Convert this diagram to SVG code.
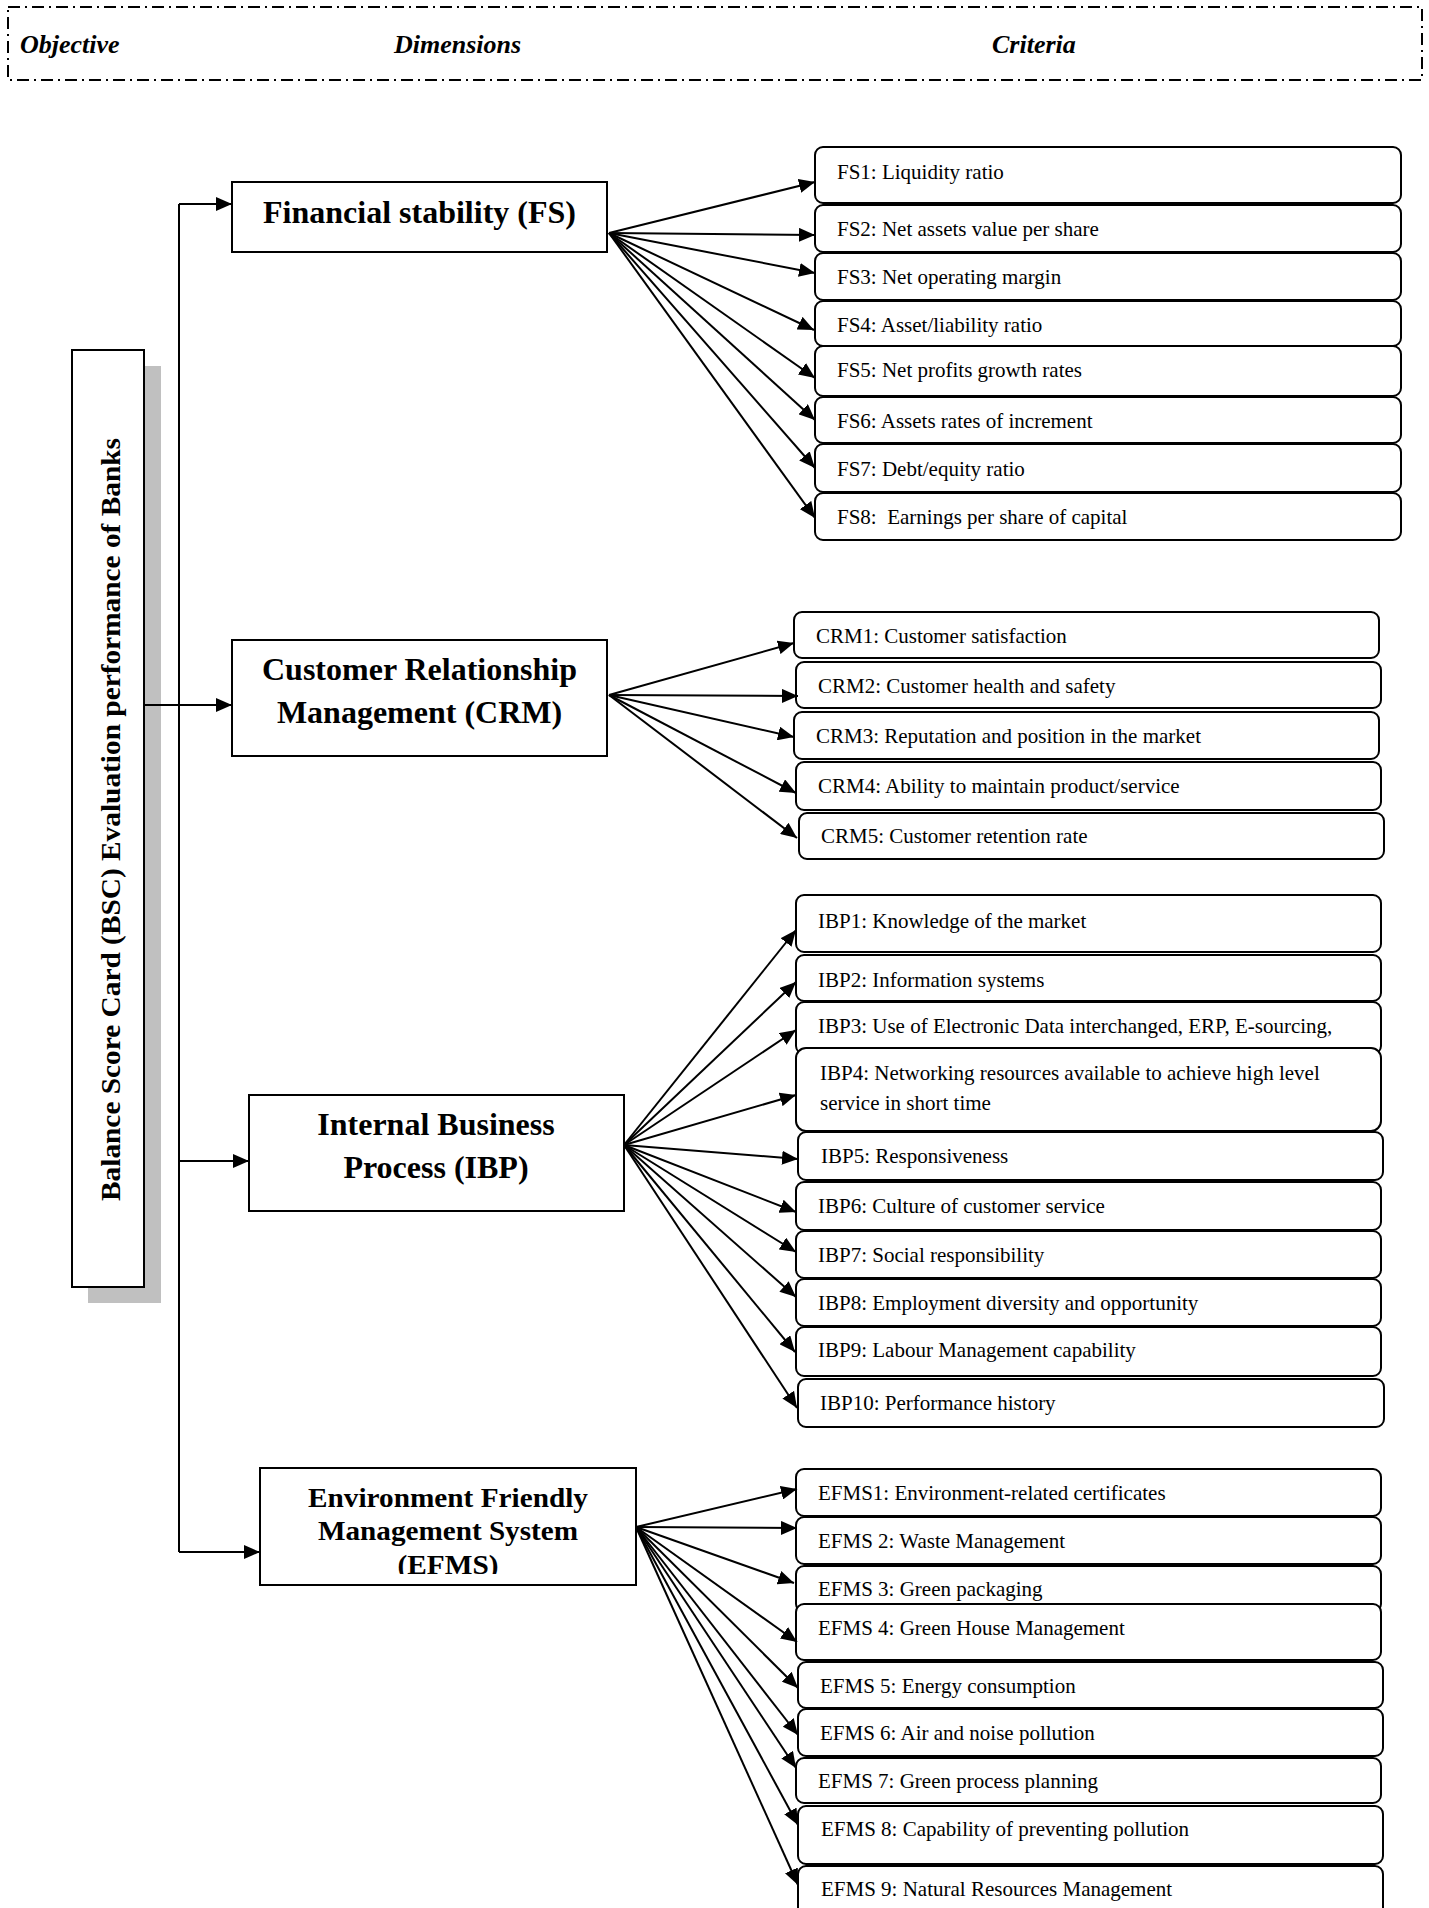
<svg xmlns="http://www.w3.org/2000/svg" width="1429" height="1908" viewBox="0 0 1429 1908">
<style>
.hdr{font-family:"Liberation Serif","Times New Roman",serif;font-size:26px;font-weight:bold;font-style:italic;fill:#000}
.dim{fill:#fff;stroke:#000;stroke-width:2}
.dimt{font-family:"Liberation Serif","Times New Roman",serif;font-size:32px;font-weight:bold;fill:#000;text-anchor:middle}
.dimt.sm{font-size:28px}
.crit{fill:#fff;stroke:#000;stroke-width:2}
.ct{font-family:"Liberation Serif","Times New Roman",serif;font-size:21px;fill:#000}
.con line{stroke:#000;stroke-width:2;fill:none}
.arr{marker-end:url(#ah)}
</style>
<defs>
<marker id="ah" markerUnits="userSpaceOnUse" markerWidth="16" markerHeight="14" refX="16" refY="7" orient="auto">
<path d="M0,0 L16,7 L0,14 z" fill="#000"/>
</marker>
<clipPath id="efclip"><rect x="260" y="1468" width="376" height="106"/></clipPath>
</defs>
<rect width="1429" height="1908" fill="#fff"/>

<g id="header">
<rect x="8" y="7" width="1414" height="73" fill="none" stroke="#000" stroke-width="2" stroke-dasharray="12 5 2 5"/>
<text class="hdr" x="20" y="53">Objective</text>
<text class="hdr" x="394" y="53">Dimensions</text>
<text class="hdr" x="992" y="53">Criteria</text>
</g>

<g id="bsc">
<rect x="88" y="366" width="73" height="937" fill="#c0c0c0"/>
<rect x="72" y="350" width="72" height="937" fill="#fff" stroke="#000" stroke-width="2"/>
<text transform="translate(120,819.5) rotate(-90)" text-anchor="middle" font-family="'Liberation Serif','Times New Roman',serif" font-size="27" font-weight="bold" textLength="763" lengthAdjust="spacingAndGlyphs">Balance Score Card (BSC) Evaluation performance of Banks</text>
</g>

<g id="dim-fs">
<rect class="dim" x="232" y="182" width="375" height="70"/>
<text class="dimt" x="419.5" y="223">Financial stability (FS)</text>
</g>
<g id="dim-crm">
<rect class="dim" x="232" y="640" width="375" height="116"/>
<text class="dimt" x="419.5" y="680">Customer Relationship</text>
<text class="dimt" x="419.5" y="723">Management (CRM)</text>
</g>
<g id="dim-ibp">
<rect class="dim" x="249" y="1095" width="375" height="116"/>
<text class="dimt" x="436" y="1135">Internal Business</text>
<text class="dimt" x="436" y="1178">Process (IBP)</text>
</g>
<g id="dim-efms">
<rect class="dim" x="260" y="1468" width="376" height="117"/>
<g clip-path="url(#efclip)">
<text class="dimt sm" x="448" y="1507" textLength="280" lengthAdjust="spacingAndGlyphs">Environment Friendly</text>
<text class="dimt sm" x="448" y="1540" textLength="260" lengthAdjust="spacingAndGlyphs">Management System</text>
<text class="dimt sm" x="448" y="1574" textLength="101" lengthAdjust="spacingAndGlyphs">(EFMS)</text>
</g>
</g>

<g id="crit-fs">
<g id="fs1"><rect class="crit" x="815" y="147" width="586" height="56" rx="8"/><text class="ct" x="837" y="179">FS1: Liquidity ratio</text></g>
<g id="fs2"><rect class="crit" x="815" y="205" width="586" height="47" rx="8"/><text class="ct" x="837" y="236">FS2: Net assets value per share</text></g>
<g id="fs3"><rect class="crit" x="815" y="253" width="586" height="47" rx="8"/><text class="ct" x="837" y="284">FS3: Net operating margin</text></g>
<g id="fs4"><rect class="crit" x="815" y="301" width="586" height="45" rx="8"/><text class="ct" x="837" y="332">FS4: Asset/liability ratio</text></g>
<g id="fs5"><rect class="crit" x="815" y="346" width="586" height="50" rx="8"/><text class="ct" x="837" y="377">FS5: Net profits growth rates</text></g>
<g id="fs6"><rect class="crit" x="815" y="397" width="586" height="46" rx="8"/><text class="ct" x="837" y="428">FS6: Assets rates of increment</text></g>
<g id="fs7"><rect class="crit" x="815" y="444" width="586" height="48" rx="8"/><text class="ct" x="837" y="476">FS7: Debt/equity ratio</text></g>
<g id="fs8"><rect class="crit" x="815" y="493" width="586" height="47" rx="8"/><text class="ct" x="837" y="524" xml:space="preserve">FS8:  Earnings per share of capital</text></g>
</g>

<g id="crit-crm">
<g id="crm1"><rect class="crit" x="794" y="612" width="585" height="46" rx="8"/><text class="ct" x="816" y="643">CRM1: Customer satisfaction</text></g>
<g id="crm2"><rect class="crit" x="796" y="662" width="585" height="46" rx="8"/><text class="ct" x="818" y="693">CRM2: Customer health and safety</text></g>
<g id="crm3"><rect class="crit" x="794" y="712" width="585" height="47" rx="8"/><text class="ct" x="816" y="743">CRM3: Reputation and position in the market</text></g>
<g id="crm4"><rect class="crit" x="796" y="762" width="585" height="48" rx="8"/><text class="ct" x="818" y="793">CRM4: Ability to maintain product/service</text></g>
<g id="crm5"><rect class="crit" x="799" y="813" width="585" height="46" rx="8"/><text class="ct" x="821" y="843">CRM5: Customer retention rate</text></g>
</g>

<g id="crit-ibp">
<g id="ibp1"><rect class="crit" x="796" y="895" width="585" height="57" rx="8"/><text class="ct" x="818" y="928">IBP1: Knowledge of the market</text></g>
<g id="ibp2"><rect class="crit" x="796" y="955" width="585" height="46" rx="8"/><text class="ct" x="818" y="987">IBP2: Information systems</text></g>
<g id="ibp3"><rect class="crit" x="796" y="1002" width="585" height="52" rx="8"/><text class="ct" x="818" y="1033">IBP3: Use of Electronic Data interchanged, ERP, E-sourcing,</text></g>
<g id="ibp4"><rect class="crit" x="796" y="1048" width="585" height="83" rx="10"/><text class="ct" x="820" y="1080">IBP4: Networking resources available to achieve high level</text><text class="ct" x="820" y="1110">service in short time</text></g>
<g id="ibp5"><rect class="crit" x="798" y="1132" width="585" height="48" rx="8"/><text class="ct" x="821" y="1163">IBP5: Responsiveness</text></g>
<g id="ibp6"><rect class="crit" x="796" y="1182" width="585" height="48" rx="8"/><text class="ct" x="818" y="1213">IBP6: Culture of customer service</text></g>
<g id="ibp7"><rect class="crit" x="796" y="1231" width="585" height="47" rx="8"/><text class="ct" x="818" y="1262">IBP7: Social responsibility</text></g>
<g id="ibp8"><rect class="crit" x="796" y="1279" width="585" height="47" rx="8"/><text class="ct" x="818" y="1310">IBP8: Employment diversity and opportunity</text></g>
<g id="ibp9"><rect class="crit" x="796" y="1327" width="585" height="49" rx="8"/><text class="ct" x="818" y="1357">IBP9: Labour Management capability</text></g>
<g id="ibp10"><rect class="crit" x="798" y="1379" width="586" height="48" rx="8"/><text class="ct" x="820" y="1410">IBP10: Performance history</text></g>
</g>

<g id="crit-efms">
<g id="efms1"><rect class="crit" x="796" y="1469" width="585" height="47" rx="8"/><text class="ct" x="818" y="1500">EFMS1: Environment-related certificates</text></g>
<g id="efms2"><rect class="crit" x="796" y="1517" width="585" height="47" rx="8"/><text class="ct" x="818" y="1548">EFMS 2: Waste Management</text></g>
<g id="efms3"><rect class="crit" x="796" y="1566" width="585" height="46" rx="8"/><text class="ct" x="818" y="1596">EFMS 3: Green packaging</text></g>
<g id="efms4"><rect class="crit" x="796" y="1604" width="585" height="56" rx="8"/><text class="ct" x="818" y="1635">EFMS 4: Green House Management</text></g>
<g id="efms5"><rect class="crit" x="798" y="1662" width="585" height="46" rx="8"/><text class="ct" x="820" y="1693">EFMS 5: Energy consumption</text></g>
<g id="efms6"><rect class="crit" x="798" y="1709" width="585" height="47" rx="8"/><text class="ct" x="820" y="1740">EFMS 6: Air and noise pollution</text></g>
<g id="efms7"><rect class="crit" x="796" y="1758" width="585" height="45" rx="8"/><text class="ct" x="818" y="1788">EFMS 7: Green process planning</text></g>
<g id="efms8"><rect class="crit" x="798" y="1806" width="585" height="58" rx="8"/><text class="ct" x="821" y="1836">EFMS 8: Capability of preventing pollution</text></g>
<g id="efms9"><rect class="crit" x="798" y="1866" width="585" height="60" rx="8"/><text class="ct" x="821" y="1896">EFMS 9: Natural Resources Management</text></g>
</g>

<g id="connectors" class="con">
<line x1="179" y1="204" x2="179" y2="1552"/>
<line class="arr" x1="179" y1="204" x2="232" y2="204"/>
<line class="arr" x1="144" y1="705" x2="232" y2="705"/>
<line class="arr" x1="179" y1="1161" x2="249" y2="1161"/>
<line class="arr" x1="179" y1="1552" x2="260" y2="1552"/>

<line class="arr" x1="609" y1="233" x2="815" y2="182"/>
<line class="arr" x1="609" y1="233" x2="815" y2="235"/>
<line class="arr" x1="609" y1="233" x2="815" y2="273"/>
<line class="arr" x1="609" y1="233" x2="814" y2="330"/>
<line class="arr" x1="609" y1="233" x2="815" y2="378"/>
<line class="arr" x1="609" y1="233" x2="815" y2="420"/>
<line class="arr" x1="609" y1="233" x2="815" y2="468"/>
<line class="arr" x1="609" y1="233" x2="815" y2="518"/>

<line class="arr" x1="609" y1="695" x2="794" y2="643"/>
<line class="arr" x1="609" y1="695" x2="798" y2="696"/>
<line class="arr" x1="609" y1="695" x2="794" y2="737"/>
<line class="arr" x1="609" y1="695" x2="796" y2="793"/>
<line class="arr" x1="609" y1="695" x2="797" y2="838"/>

<line class="arr" x1="624" y1="1145" x2="796" y2="930"/>
<line class="arr" x1="624" y1="1145" x2="796" y2="982"/>
<line class="arr" x1="624" y1="1145" x2="796" y2="1030"/>
<line class="arr" x1="624" y1="1145" x2="796" y2="1095"/>
<line class="arr" x1="624" y1="1145" x2="798" y2="1159"/>
<line class="arr" x1="624" y1="1145" x2="796" y2="1212"/>
<line class="arr" x1="624" y1="1145" x2="796" y2="1252"/>
<line class="arr" x1="624" y1="1145" x2="796" y2="1297"/>
<line class="arr" x1="624" y1="1145" x2="795" y2="1352"/>
<line class="arr" x1="624" y1="1145" x2="797" y2="1408"/>

<line class="arr" x1="636" y1="1527" x2="797" y2="1489"/>
<line class="arr" x1="636" y1="1527" x2="797" y2="1528"/>
<line class="arr" x1="636" y1="1527" x2="794" y2="1583"/>
<line class="arr" x1="636" y1="1527" x2="797" y2="1642"/>
<line class="arr" x1="636" y1="1527" x2="798" y2="1688"/>
<line class="arr" x1="636" y1="1527" x2="798" y2="1735"/>
<line class="arr" x1="636" y1="1527" x2="796" y2="1768"/>
<line class="arr" x1="636" y1="1527" x2="798" y2="1825"/>
<line class="arr" x1="636" y1="1527" x2="798" y2="1885"/>
</g>
</svg>
